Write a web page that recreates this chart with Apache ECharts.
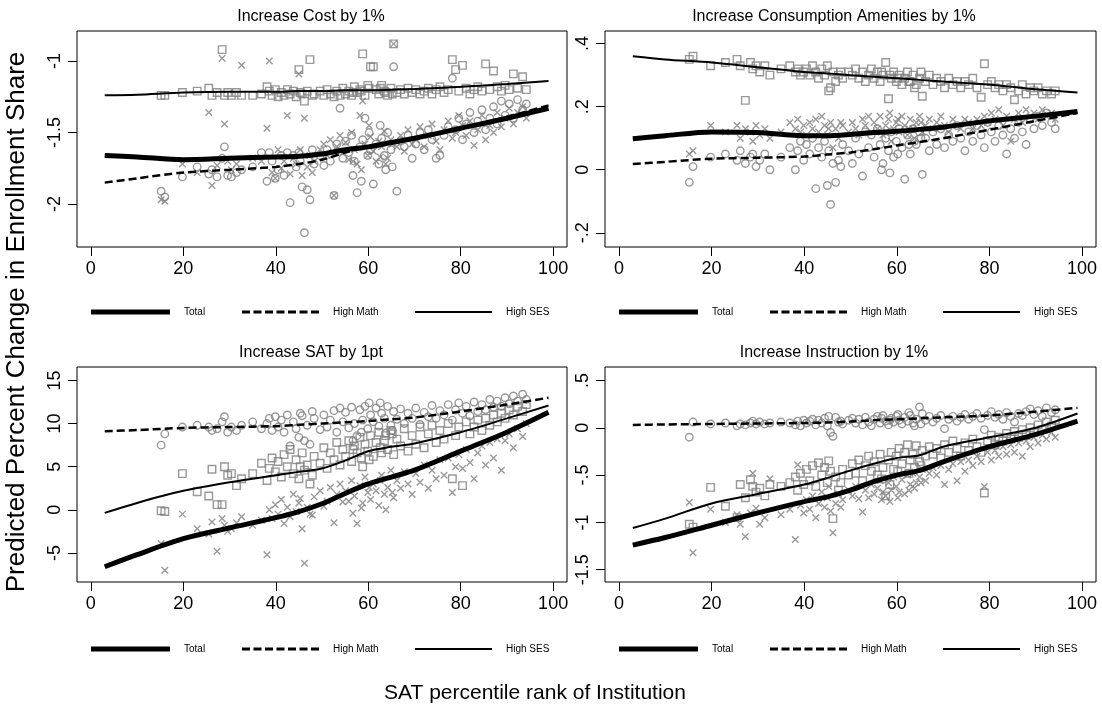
<!DOCTYPE html>
<html><head><meta charset="utf-8">
<script src="https://cdn.jsdelivr.net/npm/echarts@6/dist/echarts.min.js"></script>
<style>html,body{margin:0;padding:0;background:#fff}#c{width:1102px;height:708px}</style>
</head><body><div id="c"></div>
<script>
// Institution SAT percentile ranks (shared across panels)
const X = [
 15.2,16.0,19.8,23.0,25.5,26.2,27.3,28.4,28.9,29.6,
 30.4,31.5,32.6,35.0,36.9,38.1,38.6,39.2,39.9,40.5,
 41.2,41.8,42.5,43.1,43.8,44.4,45.0,45.7,46.2,46.8,
 47.4,48.3,49.6,50.4,51.1,51.8,52.6,53.2,53.9,54.5,
 55.1,55.8,56.4,57.0,57.6,58.2,58.8,59.3,59.9,60.5,
 61.1,61.7,62.3,62.9,63.5,64.2,64.9,65.5,66.2,67.0,
 67.8,68.6,69.5,70.3,71.2,72.1,73.0,73.8,74.7,75.5,
 76.4,77.3,78.2,78.9,79.6,80.4,81.2,82.0,82.9,83.7,
 84.6,85.4,86.3,87.1,87.9,88.8,89.6,90.5,91.4,92.3,
 93.4,94.2,56.7,60.2,63.8,47.9,45.3,58.5,62.6,65.2];

// Panel 1: Increase Cost by 1%
const P1_TOT = [
 -1.97,-1.98,-1.72,-1.78,-1.36,-1.87,-1.73,-0.98,-1.44,-1.70,
 -1.76,-1.72,-1.03,-1.68,-1.70,-1.47,-1.00,-1.78,-1.82,-1.62,
 -1.75,-1.70,-1.38,-1.79,-1.68,-1.72,-1.09,-1.80,-1.40,-1.74,
 -1.66,-1.70,-1.62,-1.58,-1.66,-1.55,-1.94,-1.60,-1.52,-1.64,
 -1.57,-1.69,-1.50,-1.62,-1.72,-1.38,-1.28,-1.58,-1.66,-1.53,
 -1.63,-1.70,-1.56,-1.60,-1.49,-1.68,-1.55,-0.88,-1.60,-1.52,
 -1.63,-1.48,-1.58,-1.55,-1.46,-1.60,-1.52,-1.44,-1.56,-1.62,
 -1.48,-1.42,-1.54,-1.50,-1.38,-1.45,-1.52,-1.42,-1.59,-1.48,
 -1.38,-1.55,-1.45,-1.50,-1.36,-1.46,-1.40,-1.33,-1.44,-1.36,
 -1.32,-1.40,-1.70,-1.45,-1.72,-1.78,-1.62,-1.76,-1.67,-1.58];
const P1_MATH = [
 -1.91,-1.95,-1.81,-1.74,-1.79,-1.76,-1.81,-1.68,-1.60,-1.80,
 -1.81,-1.78,-1.76,-1.74,-1.64,-1.84,-1.64,-1.70,-1.82,-1.76,
 -1.66,-1.80,-1.64,-1.99,-1.66,-1.74,-1.64,-1.88,-2.20,-1.90,
 -1.97,-1.72,-1.66,-1.73,-1.62,-1.70,-1.94,-1.58,-1.33,-1.68,
 -1.56,-1.64,-1.52,-1.70,-1.92,-1.60,-1.55,-1.40,-1.66,-1.62,
 -1.86,-1.58,-1.72,-1.54,-1.66,-1.50,-1.62,-1.04,-1.91,-1.56,
 -1.60,-1.52,-1.68,-1.58,-1.50,-1.62,-1.48,-1.55,-1.68,-1.66,
 -1.52,-1.46,-1.12,-1.48,-1.40,-1.55,-1.44,-1.36,-1.50,-1.42,
 -1.34,-1.48,-1.40,-1.32,-1.44,-1.28,-1.38,-1.30,-1.40,-1.27,
 -1.34,-1.30,-1.80,-1.50,-1.76,-1.62,-1.70,-1.84,-1.45,-1.74];
const P1_SES = [
 -1.24,-1.24,-1.22,-1.21,-1.19,-1.24,-1.22,-0.92,-1.24,-1.22,
 -1.24,-1.22,-1.24,-1.24,-1.23,-1.18,-1.21,-1.24,-1.20,-1.25,
 -1.22,-1.24,-1.20,-1.23,-1.21,-1.25,-1.06,-1.23,-1.28,-1.21,
 -0.99,-1.23,-1.21,-1.24,-1.20,-1.23,-1.25,-1.21,-1.24,-1.19,
 -1.23,-1.21,-1.24,-1.18,-1.22,-1.20,-0.95,-1.24,-1.17,-1.04,
 -1.04,-1.20,-1.23,-1.17,-1.21,-1.24,-1.19,-0.88,-1.22,-1.20,
 -1.23,-1.19,-1.22,-1.20,-1.23,-1.21,-1.19,-1.23,-1.20,-1.18,
 -1.22,-1.20,-0.99,-1.06,-1.21,-1.03,-1.19,-1.23,-1.20,-1.18,
 -1.21,-1.02,-1.20,-1.07,-1.18,-1.21,-1.17,-1.20,-1.09,-1.19,
 -1.11,-1.20,-1.22,-1.19,-1.22,-1.24,-1.22,-1.21,-1.19,-1.23];

// Panel 2: Increase Consumption Amenities by 1%
const P2_TOT = [
 0.05,0.06,0.14,0.12,0.14,0.10,0.13,0.12,0.09,0.14,
 0.11,0.13,0.10,0.12,0.15,0.13,0.16,0.12,0.14,0.11,
 0.15,0.13,0.16,0.12,0.17,0.14,0.11,0.15,0.07,0.13,
 0.10,0.14,0.12,0.15,0.13,0.11,0.16,0.14,0.17,0.12,
 0.15,0.13,0.17,0.11,0.14,0.16,0.09,0.13,0.15,0.12,
 0.17,0.14,0.11,0.16,0.13,0.15,0.17,0.12,0.14,0.16,
 0.13,0.15,0.17,0.14,0.12,0.16,0.14,0.13,0.16,0.15,
 0.13,0.16,0.14,0.17,0.15,0.18,0.16,0.19,0.14,0.17,
 0.09,0.16,0.18,0.15,0.19,0.17,0.18,0.16,0.19,0.17,
 0.18,0.16,0.12,0.16,0.10,0.15,0.13,0.18,0.13,0.15];
const P2_MATH = [
 -0.04,0.01,0.04,0.05,0.03,0.06,0.02,0.04,0.05,0.01,
 0.03,0.05,0.00,0.04,0.07,0.00,0.06,0.09,0.03,0.08,
 0.05,0.10,-0.06,0.07,0.04,0.09,-0.05,-0.11,0.02,-0.04,
 0.03,0.08,0.06,0.02,0.10,0.05,-0.02,0.12,0.07,0.11,
 0.04,0.13,0.08,0.02,0.10,0.06,0.12,0.04,0.09,0.13,
 0.07,-0.03,0.11,0.05,0.13,0.08,0.12,-0.015,0.10,0.06,
 0.12,0.08,0.13,0.07,0.11,0.09,0.14,0.10,0.06,0.12,
 0.09,0.14,0.11,0.07,0.15,0.12,0.09,0.14,0.11,0.05,
 0.13,0.10,0.15,0.12,0.08,0.16,0.13,0.17,0.14,0.18,
 0.15,0.13,0.00,0.05,0.09,0.01,0.06,-0.01,0.08,0.10];
const P2_SES = [
 0.35,0.36,0.33,0.34,0.35,0.33,0.22,0.34,0.32,0.33,
 0.31,0.33,0.30,0.32,0.33,0.31,0.32,0.30,0.31,0.32,
 0.30,0.33,0.31,0.29,0.32,0.30,0.33,0.26,0.31,0.28,
 0.30,0.29,0.31,0.30,0.32,0.29,0.31,0.28,0.30,0.32,
 0.29,0.31,0.28,0.30,0.34,0.225,0.29,0.31,0.28,0.30,
 0.27,0.29,0.31,0.28,0.30,0.27,0.29,0.233,0.28,0.30,
 0.27,0.29,0.28,0.26,0.29,0.27,0.28,0.26,0.28,0.27,
 0.29,0.26,0.23,0.336,0.27,0.28,0.26,0.27,0.25,0.27,
 0.26,0.222,0.25,0.27,0.24,0.26,0.25,0.26,0.24,0.25,
 0.24,0.25,0.31,0.29,0.26,0.31,0.25,0.30,0.28,0.31];

// Panel 3: Increase SAT by 1pt
const P3_TOT = [
 -3.9,-7.0,-0.5,-2.2,-2.8,-1.4,-4.8,-1.0,-1.8,-2.5,
 -2.2,-1.5,-0.8,-1.8,-1.2,-5.2,0.0,-1.0,0.6,-0.5,
 1.2,-1.6,0.3,-0.8,1.8,-0.2,0.8,-2.2,-6.2,0.3,
 -0.5,1.5,2.2,0.4,1.0,2.6,-1.5,1.8,3.0,0.9,
 2.2,1.0,3.4,1.6,-1.6,2.8,0.8,3.8,2.0,1.2,
 3.0,2.2,0.5,4.0,1.8,2.6,4.6,1.4,3.4,2.5,
 4.4,3.0,1.8,4.2,3.2,5.2,2.5,4.6,3.6,5.8,
 4.0,6.0,2.0,5.0,6.4,4.8,7.0,5.5,3.6,6.6,
 7.4,5.2,7.8,6.0,8.2,4.6,8.0,8.8,7.2,9.4,
 8.5,10.0,-0.4,2.6,0.0,-0.6,1.3,0.2,3.4,2.0];
const P3_MATH = [
 7.5,8.8,9.6,9.8,9.6,9.2,9.4,10.2,10.8,9.0,
 9.6,9.2,9.8,10.2,9.4,10.0,10.6,9.2,10.8,9.6,
 10.4,9.0,11.0,7.4,10.2,9.4,8.4,10.9,8.0,9.8,
 7.6,10.6,9.3,11.0,9.6,10.4,11.5,9.0,11.8,10.2,
 11.3,9.5,11.9,10.0,8.6,11.6,10.4,12.0,9.4,11.0,
 10.2,11.8,9.7,11.2,10.6,12.0,9.8,11.4,10.5,11.7,
 10.0,11.2,10.6,11.8,9.9,11.3,10.8,12.1,10.6,11.5,
 11.0,12.2,10.4,11.6,12.4,11.2,12.0,10.9,12.5,11.4,
 12.2,11.6,12.8,11.9,12.6,12.0,13.0,12.3,13.2,12.6,
 13.4,12.8,8.0,12.4,8.9,11.4,11.2,9.0,12.4,9.2];
const P3_SES = [
 -0.1,-0.2,4.2,2.1,1.6,4.7,0.6,0.6,5.0,4.0,
 4.2,2.8,3.6,4.2,5.4,3.4,4.8,6.0,4.4,5.6,
 3.8,6.4,5.0,7.0,4.2,5.8,3.6,6.6,4.6,5.2,
 3.0,6.2,5.4,7.2,4.8,6.6,5.8,7.8,5.2,7.0,
 6.2,8.0,5.6,7.4,6.6,8.4,5.0,7.6,6.8,8.6,
 6.2,7.8,9.0,6.6,8.0,7.0,9.2,6.4,8.2,7.4,
 9.4,6.8,8.6,7.6,9.6,7.2,8.8,9.8,7.8,9.2,
 8.2,10.0,3.6,8.6,9.6,2.8,10.2,8.8,9.6,10.4,
 9.2,10.6,9.8,11.0,10.2,11.2,10.6,11.6,11.0,12.0,
 11.4,12.2,7.0,5.8,8.6,4.0,5.0,6.0,7.2,8.8];

// Panel 4: Increase Instruction by 1%
const P4_TOT = [
 -0.79,-1.32,-0.86,-1.00,-0.92,-1.02,-1.15,-0.90,-0.48,-0.85,
 -1.02,-0.95,-0.54,-0.92,-0.86,-1.18,-0.39,-0.82,-0.90,-0.76,
 -0.86,-0.72,-0.95,-0.80,-0.68,-0.84,-0.74,-0.88,-1.11,-0.80,
 -0.70,-0.76,-0.66,-0.72,-0.62,-0.75,-0.89,-0.66,-0.74,-0.60,
 -0.70,-0.64,-0.56,-0.68,-0.72,-0.58,-0.66,-0.52,-0.62,-0.68,
 -0.55,-0.70,-0.50,-0.60,-0.48,-0.58,-0.52,-0.44,-0.56,-0.48,
 -0.42,-0.50,-0.40,-0.60,-0.44,-0.38,-0.56,-0.36,-0.46,-0.34,
 -0.40,-0.30,-0.36,-0.62,-0.26,-0.34,-0.24,-0.30,-0.20,-0.28,
 -0.18,-0.26,-0.16,-0.30,-0.14,-0.20,-0.10,-0.16,-0.08,-0.12,
 -0.05,-0.10,-0.76,-0.74,-0.64,-0.84,-0.62,-0.78,-0.66,-0.58];
const P4_MATH = [
 -0.10,0.06,0.04,0.05,0.02,0.04,0.03,0.05,0.07,0.04,
 0.06,0.04,0.05,0.06,0.05,0.03,0.07,0.02,0.08,0.05,
 0.07,0.09,0.03,0.08,0.05,0.10,0.02,-0.05,-0.09,0.11,
 0.06,0.04,0.08,0.10,0.05,0.09,0.03,0.11,0.06,0.02,
 0.09,0.12,0.05,0.13,0.07,0.03,0.10,0.06,0.12,0.08,
 0.04,0.11,0.07,0.13,0.05,0.09,0.22,0.15,0.08,0.12,
 0.06,0.10,0.13,-0.01,0.09,0.12,0.07,0.11,0.14,0.09,
 0.12,0.15,0.10,-0.02,0.13,0.17,0.11,0.14,0.09,0.16,
 0.12,0.06,0.15,0.13,0.17,0.20,0.14,0.18,0.12,0.21,
 0.16,0.19,0.10,0.14,0.02,0.07,0.12,0.08,0.16,0.04];
const P4_SES = [
 -1.02,-1.05,-0.63,-0.83,-0.95,-0.60,-0.74,-0.55,-0.62,-0.68,
 -0.64,-0.72,-0.60,-0.62,-0.58,-0.52,-0.66,-0.48,-0.60,-0.44,
 -0.56,-0.40,-0.62,-0.37,-0.50,-0.42,-0.58,-0.46,-0.96,-0.52,
 -0.66,-0.44,-0.50,-0.38,-0.48,-0.34,-0.56,-0.40,-0.30,-0.46,
 -0.36,-0.50,-0.28,-0.42,-0.72,-0.34,-0.26,-0.44,-0.30,-0.22,
 -0.38,-0.26,-0.18,-0.34,-0.28,-0.19,-0.36,-0.24,-0.30,-0.20,
 -0.28,-0.22,-0.32,-0.18,-0.26,-0.14,-0.22,-0.30,-0.16,-0.24,
 -0.12,-0.20,-0.26,-0.69,-0.14,-0.08,-0.18,-0.10,-0.14,-0.06,
 -0.12,-0.04,-0.10,-0.02,-0.08,0.00,-0.05,0.03,-0.02,0.06,
 0.02,0.08,-0.54,-0.46,-0.42,-0.58,-0.35,-0.60,-0.48,-0.40];

// Fitted lines, sampled along the percentile rank
const LINE_X = [3,10,20,30,40,45,50,55,60,65,70,80,90,99];
const L1_TOT  = [-1.66,-1.67,-1.69,-1.68,-1.67,-1.665,-1.65,-1.62,-1.60,-1.57,-1.54,-1.47,-1.40,-1.33];
const L1_MATH = [-1.85,-1.82,-1.78,-1.76,-1.74,-1.72,-1.69,-1.64,-1.60,-1.57,-1.54,-1.47,-1.39,-1.31];
const L1_SES  = [-1.24,-1.235,-1.22,-1.215,-1.215,-1.21,-1.21,-1.205,-1.205,-1.2,-1.195,-1.18,-1.16,-1.14];
const L2_TOT  = [0.098,0.108,0.12,0.118,0.108,0.108,0.112,0.118,0.122,0.128,0.135,0.155,0.17,0.185];
const L2_MATH = [0.018,0.025,0.035,0.038,0.042,0.048,0.055,0.065,0.077,0.088,0.10,0.127,0.155,0.18];
const L2_SES  = [0.36,0.35,0.34,0.325,0.31,0.305,0.30,0.295,0.29,0.285,0.28,0.27,0.255,0.245];
const L3_TOT  = [-6.6,-5.2,-3.35,-2.1,-0.9,-0.2,0.7,1.9,3.0,3.8,4.6,6.8,9.0,11.3];
const L3_MATH = [9.1,9.25,9.5,9.6,9.7,9.85,10.0,10.15,10.3,10.5,10.7,11.4,12.2,13.0];
const L3_SES  = [-0.35,0.8,2.2,3.2,4.0,4.4,4.8,5.7,6.8,7.3,7.7,9.0,10.6,12.1];
const L4_TOT  = [-1.24,-1.16,-1.03,-0.90,-0.78,-0.73,-0.66,-0.57,-0.50,-0.45,-0.36,-0.20,-0.07,0.07];
const L4_MATH = [0.03,0.035,0.04,0.045,0.05,0.055,0.065,0.08,0.09,0.10,0.11,0.13,0.17,0.21];
const L4_SES  = [-1.06,-0.96,-0.80,-0.70,-0.60,-0.53,-0.45,-0.38,-0.32,-0.29,-0.20,-0.10,0.0,0.15];

// Axis tick labels
const X_TICKS = [0,20,40,60,80,100];
const Y1_TICKS = [-2,-1.5,-1];
const Y2_TICKS = [-0.2,0,0.2,0.4];
const Y3_TICKS = [-5,0,5,10,15];
const Y4_TICKS = [-1.5,-1,-0.5,0,0.5];

const TITLES = ['Increase Cost by 1%','Increase Consumption Amenities by 1%','Increase SAT by 1pt','Increase Instruction by 1%'];
const LEGEND_NAMES = ['Total','High Math','High SES'];
const Y_TITLE = 'Predicted Percent Change in Enrollment Share';
const X_TITLE = 'SAT percentile rank of Institution';

const FONT = '"Liberation Sans", Arial, Helvetica, sans-serif';
const GRAY = '#808080';

const PANELS = [
  {tot:P1_TOT, math:P1_MATH, ses:P1_SES, lt:L1_TOT, lm:L1_MATH, ls:L1_SES, ymin:-2.30, ymax:-0.79, ticks:Y1_TICKS},
  {tot:P2_TOT, math:P2_MATH, ses:P2_SES, lt:L2_TOT, lm:L2_MATH, ls:L2_SES, ymin:-0.245, ymax:0.44, ticks:Y2_TICKS},
  {tot:P3_TOT, math:P3_MATH, ses:P3_SES, lt:L3_TOT, lm:L3_MATH, ls:L3_SES, ymin:-8.37, ymax:16.56, ticks:Y3_TICKS},
  {tot:P4_TOT, math:P4_MATH, ses:P4_SES, lt:L4_TOT, lm:L4_MATH, ls:L4_SES, ymin:-1.63, ymax:0.642, ticks:Y4_TICKS}
];
const GRIDS = [
  {left:77, top:31, width:490, height:216},
  {left:605, top:31, width:491, height:216},
  {left:77, top:367, width:490, height:215},
  {left:605, top:367, width:491, height:215}
];

function pts(ys){ return X.map((x,i)=>[x, ys[i]]); }
function lpts(ys){ return LINE_X.map((x,i)=>[x, ys[i]]); }
function fmtY(v){
  let s = String(v);
  if (s.startsWith('0.')) s = s.slice(1);
  else if (s.startsWith('-0.')) s = '-' + s.slice(2);
  return s;
}

const grid = [], xAxis = [], yAxis = [], series = [], legend = [], graphic = [];
const MARK = {color:'rgba(0,0,0,0)', borderColor:GRAY, borderWidth:1.4};
const XSYM = 'path://M0 0L10 10M10 0L0 10';
const DASH_ICON = 'path://M0 0h8v3h-8z M11.5 0h8v3h-8z M23 0h8v3h-8z M34.5 0h8v3h-8z M46 0h8v3h-8z M57.5 0h8v3h-8z M69 0h8v3h-8z';

PANELS.forEach((p, i) => {
  const g = GRIDS[i];
  grid.push(Object.assign({show:true, borderColor:'#000', borderWidth:1, backgroundColor:'#fff', containLabel:false}, g));
  xAxis.push({
    type:'value', gridIndex:i, min:-3, max:103, position:'bottom',
    axisLine:{show:false, onZero:false}, splitLine:{show:false},
    axisTick:{show:true, inside:false, length:9, lineStyle:{color:'#000', width:1}, customValues:X_TICKS},
    axisLabel:{show:true, customValues:X_TICKS, margin:13, color:'#000', fontSize:18, fontFamily:FONT}
  });
  yAxis.push({
    type:'value', gridIndex:i, min:p.ymin, max:p.ymax, position:'left',
    axisLine:{show:false, onZero:false}, splitLine:{show:false},
    axisTick:{show:true, inside:false, length:9, lineStyle:{color:'#000', width:1}, customValues:p.ticks},
    axisLabel:{show:true, customValues:p.ticks, rotate:90, margin:13, color:'#000', fontSize:18, fontFamily:FONT, formatter:fmtY}
  });
  const common = {type:'scatter', xAxisIndex:i, yAxisIndex:i, symbolSize:7.5, itemStyle:MARK, z:2, silent:true};
  series.push(Object.assign({}, common, {name:'High SES obs', symbol:'rect', data:pts(p.ses)}));
  series.push(Object.assign({}, common, {name:'High Math obs', symbol:'circle', data:pts(p.math)}));
  series.push(Object.assign({}, common, {name:'Total obs', symbol:XSYM, symbolSize:6.5, data:pts(p.tot)}));
  const lc = {type:'line', xAxisIndex:i, yAxisIndex:i, showSymbol:false, symbol:'none', smooth:0.3, z:3, silent:true, color:'#000'};
  series.push(Object.assign({}, lc, {name:'High SES', data:lpts(p.ls), lineStyle:{color:'#000', width:2}}));
  series.push(Object.assign({}, lc, {name:'High Math', data:lpts(p.lm), lineStyle:{color:'#000', width:2.5, type:[8,4]}}));
  series.push(Object.assign({}, lc, {name:'Total', data:lpts(p.lt), lineStyle:{color:'#000', width:5}}));

  const dx = (i % 2) * 528;
  const ly = i < 2 ? 307 : 644;
  const lcommon = {top:ly, padding:0, selectedMode:false, orient:'horizontal',
    itemStyle:{color:'#000', borderWidth:0},
    textStyle:{fontSize:10, color:'#000', fontFamily:FONT, padding:[0,0,0,9]}};
  legend.push(Object.assign({}, lcommon, {left:91+dx, itemWidth:79, itemHeight:5, data:[{name:LEGEND_NAMES[0], icon:'rect'}]}));
  legend.push(Object.assign({}, lcommon, {left:242+dx, itemWidth:77, itemHeight:3, data:[{name:LEGEND_NAMES[1], icon:DASH_ICON}]}));
  legend.push(Object.assign({}, lcommon, {left:415+dx, itemWidth:77, itemHeight:2, data:[{name:LEGEND_NAMES[2], icon:'rect'}]}));

  graphic.push({type:'text', x:(i % 2 ? 834 : 311), y:(i < 2 ? 17 : 353), silent:true,
    style:{text:TITLES[i], fontSize:16, fontFamily:FONT, fill:'#000', align:'center', verticalAlign:'middle'}});
});

graphic.push({type:'text', x:535, y:693, silent:true,
  style:{text:X_TITLE, fontSize:21, fontFamily:FONT, fill:'#000', align:'center', verticalAlign:'middle'}});
graphic.push({type:'text', x:17, y:322, rotation:Math.PI/2, silent:true,
  style:{text:Y_TITLE, fontSize:26, fontFamily:FONT, fill:'#000', align:'center', verticalAlign:'middle'}});

const chart = echarts.init(document.getElementById('c'), null, {renderer:'canvas'});
chart.setOption({
  backgroundColor:'#fff', animation:false,
  grid, xAxis, yAxis, series, legend, graphic
});
</script></body></html>
